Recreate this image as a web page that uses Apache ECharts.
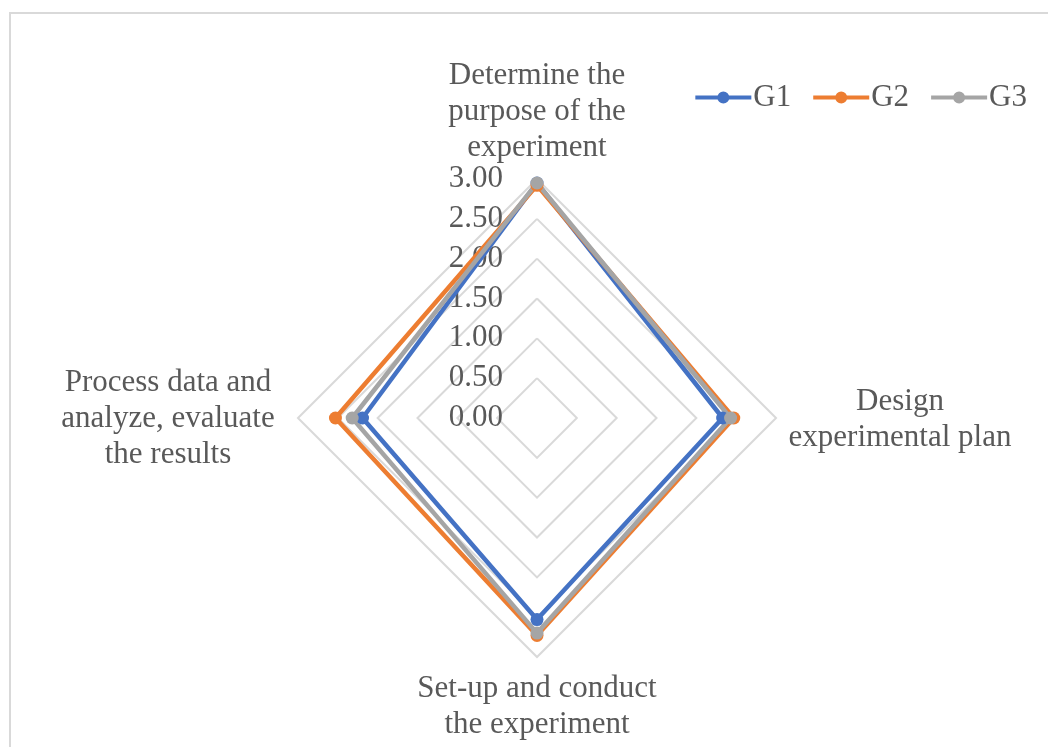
<!DOCTYPE html>
<html>
<head>
<meta charset="utf-8">
<script src="https://cdn.jsdelivr.net/npm/echarts@6/dist/echarts.min.js"></script>
<style>
  html, body { margin: 0; padding: 0; background: #ffffff; overflow: hidden; }
  #chart { position: absolute; left: 0; top: 0; width: 1048px; height: 747px; }
  #frame { position: absolute; left: 9px; top: 12px; width: 1100px; height: 800px;
           border: 2px solid #d9d9d9; pointer-events: none; box-sizing: border-box; }
</style>
</head>
<body>
<div id="chart"></div>
<div id="frame"></div>
<script>
// Assessment criteria, clockwise from the top
const categories = [
  'Determine the\npurpose of the\nexperiment',
  'Design\nexperimental plan',
  'Set-up and conduct\nthe experiment',
  'Process data and\nanalyze, evaluate\nthe results'
];
const groupNames = ['G1', 'G2', 'G3'];
const g1 = [2.95, 2.33, 2.53, 2.19];
const g2 = [2.92, 2.47, 2.73, 2.53];
const g3 = [2.95, 2.43, 2.70, 2.32];
const colors = ['#4472C4', '#ED7D31', '#A5A5A5'];
const scaleMax = 3;
const scaleStep = 0.5;

// ECharts lays indicators out counter-clockwise; reorder so the
// criteria run clockwise (top, right, bottom, left on screen).
const order = [0, 3, 2, 1];
const reorder = arr => order.map(i => arr[i]);

const FONT = 'Liberation Serif';
const TEXT = '#595959';
const FS = 31;
// rich style key for each criterion's name block
const nameKey = {};
nameKey[categories[0]] = 't';
nameKey[categories[1]] = 'r';
nameKey[categories[2]] = 'b';
nameKey[categories[3]] = 'l';

const indicator = reorder(categories).map((name, i) => ({
  name: name,
  min: 0,
  max: scaleMax,
  axisLabel: i === 0 ? {
    show: true,
    showMinLabel: true,
    showMaxLabel: true,
    fontSize: FS,
    fontFamily: FONT,
    color: TEXT,
    margin: 34,
    formatter: v => Number(v).toFixed(2)
  } : { show: false }
}));

const chart = echarts.init(document.getElementById('chart'), null, { renderer: 'canvas' });
const nameStyle = (w, pad) => ({
  width: w, align: 'center', fontSize: FS, lineHeight: 36, fontFamily: FONT, color: TEXT,
  padding: pad || 0
});

chart.setOption({
  backgroundColor: '#ffffff',
  animation: false,
  color: colors,
  legend: {
    right: 16,
    top: 77,
    itemWidth: 56,
    itemHeight: 12,
    itemGap: 22,
    textStyle: { fontSize: FS, fontFamily: FONT, color: TEXT, padding: [0, 0, 0, -3] },
    data: groupNames.map(n => ({
      name: n,
      icon: 'path://M0,4.5H56V8.5H0Z M22,6.5A6,6 0 1,1 34,6.5A6,6 0 1,1 22,6.5Z'
    }))
  },
  radar: {
    center: [537, 418],
    radius: 239,
    startAngle: 90,
    shape: 'polygon',
    splitNumber: scaleMax / scaleStep,
    nameGap: 9,
    axisName: {
      color: TEXT,
      fontSize: FS,
      fontFamily: FONT,
      formatter: (value) => {
        const k = nameKey[value];
        const body = value.split('\n').map(s => '{' + k + '|' + s + '}').join('\n');
        // a thin spacer line pushes the bottom criterion a little lower
        return k === 'b' ? '{sp| }\n' + body : body;
      },
      rich: {
        t: nameStyle(240),
        r: nameStyle(230, [4, 0, 0, 0]),
        b: nameStyle(280),
        sp: { fontSize: 2, lineHeight: 5, width: 10 },
        l: nameStyle(242, [2, 0, 0, 0])
      }
    },
    axisLine: { show: false },
    axisTick: { show: false },
    splitArea: { show: false },
    splitLine: { lineStyle: { color: '#d9d9d9', width: 2 } },
    indicator: indicator
  },
  series: [{
    type: 'radar',
    symbol: 'circle',
    symbolSize: 13,
    lineStyle: { width: 4.5 },
    data: [g1, g2, g3].map((vals, i) => ({
      name: groupNames[i],
      value: reorder(vals),
      itemStyle: { color: colors[i] },
      lineStyle: { color: colors[i], width: 4.5 }
    }))
  }]
});
</script>
</body>
</html>
